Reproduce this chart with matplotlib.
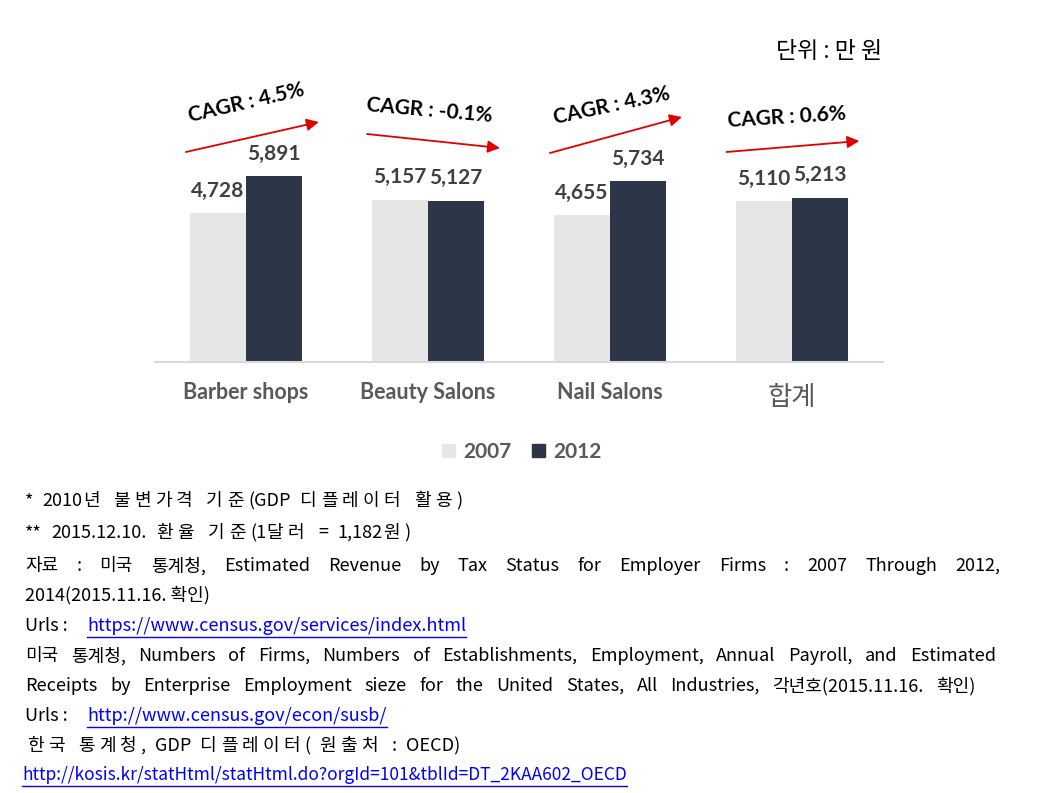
import matplotlib
matplotlib.use("Agg")
import matplotlib.pyplot as plt
import numpy as np
from matplotlib.lines import Line2D
from matplotlib.patches import Rectangle

# 데이터
categories = ["Barber shops", "Beauty Salons", "Nail Salons", "합계"]
v2007 = [4728, 5157, 4655, 5110]
v2012 = [5891, 5127, 5734, 5213]
cagr = ["4.5%", "-0.1%", "4.3%", "0.6%"]
years = ["2007", "2012"]

c07 = "#E7E6E6"
c12 = "#2D3648"
KR = ["Noto Sans CJK KR", "DejaVu Sans"]
LAT = ["Lato", "Noto Sans CJK KR"]
NOTE = ["Liberation Sans Narrow", "Noto Sans CJK KR"]

fig = plt.figure(figsize=(10.53, 7.93), dpi=100)
ax = fig.add_axes([155 / 1053, 1 - 362 / 793, 728 / 1053, 272 / 793])

x = np.arange(len(categories))
w = 0.31
b1 = ax.bar(x - w / 2, v2007, w, color=c07)
b2 = ax.bar(x + w / 2, v2012, w, color=c12)
ax.set_xlim(-0.5, 3.5)
ax.set_ylim(0, 8635)
for s in ["top", "right", "left"]:
    ax.spines[s].set_visible(False)
ax.spines["bottom"].set_color("#D9D9D9")
ax.spines["bottom"].set_linewidth(1.5)
ax.set_yticks([])
ax.set_xticks([])

# 값 라벨
for bars, vals in [(b1, v2007), (b2, v2012)]:
    for r, v in zip(bars, vals):
        ax.annotate(f"{v:,}", (r.get_x() + r.get_width() / 2, v), xytext=(0, 9),
                    textcoords="offset points", ha="center", va="bottom",
                    fontsize=15, fontweight="bold", color="#404040", family=LAT)

# 카테고리 라벨
for i, c in enumerate(categories):
    if c == "합계":
        ax.text(i, -1130, c, ha="center", va="center", fontsize=19, color="#595959", family=KR)
    else:
        ax.text(i, -960, c, ha="center", va="center", fontsize=15.5, fontweight="bold",
                color="#595959", family=LAT)

# CAGR 화살표 (시작 x오프셋, 시작 y, 끝 x오프셋, 끝 y)
arrows = [(-0.33, 6667, 0.40, 7619), (-0.335, 7238, 0.395, 6794),
          (-0.33, 6635, 0.395, 7778), (-0.36, 6667, 0.37, 7016)]
labels_pos = [(0.0, 8222, 13), (1.01, 7968, -5), (2.01, 8127, 12), (2.97, 7778, 3.5)]
for i, (a, (sx, sy, ex, ey)) in enumerate(zip(cagr, arrows)):
    ax.annotate("", xy=(i + ex, ey), xytext=(i + sx, sy),
                arrowprops=dict(arrowstyle="-|>", color="#E00000", lw=1.3,
                                mutation_scale=18, shrinkA=0, shrinkB=0),
                annotation_clip=False)
    lx, ly, rot = labels_pos[i]
    ax.text(lx, ly, f"CAGR : {a}", ha="center", va="center", rotation=rot,
            rotation_mode="anchor", fontsize=15, fontweight="bold", color="black",
            family=LAT, clip_on=False)

# 범례
handles = [Rectangle((0, 0), 1, 1, color=c07), Rectangle((0, 0), 1, 1, color=c12)]
leg = fig.legend(handles, years, loc="center", bbox_to_anchor=(522 / 1053, 1 - 452 / 793),
                 ncol=2, frameon=False, handlelength=0.6, handleheight=0.6,
                 columnspacing=1.0, handletextpad=0.4,
                 prop=dict(family=LAT, weight="bold", size=15))
for t in leg.get_texts():
    t.set_color("#595959")

fig.text(882 / 1053, 1 - 52 / 793, "단위 : 만 원", ha="right", va="center", fontsize=16.5,
         family=KR, color="black")

# 주석
renderer = fig.canvas.get_renderer()


def is_kr(ch):
    return "\uac00" <= ch <= "\ud7a3"


def tokens(s):
    out = []
    for ch in s:
        if is_kr(ch) or ch == " " or not out or is_kr(out[-1][-1]) or out[-1] == " ":
            out.append(ch)
        else:
            out[-1] += ch
    return out


def put(s, px, py, x_end=None, color="black", underline=False, size=13, spread=False):
    y = 1 - py / 793
    if x_end is None:
        t = fig.text(px / 1053, y, s, ha="left", va="center", fontsize=size,
                     family=NOTE, color=color)
        if underline:
            bb = t.get_window_extent(renderer)
            fig.add_artist(Line2D([bb.x0 / 1053, bb.x1 / 1053],
                                  [1 - (py + 11) / 793] * 2, color=color, lw=1,
                                  transform=fig.transFigure))
        return
    # spread: 한글 글자 사이만 벌림, 아니면 단어 단위 양쪽 맞춤
    parts = tokens(s) if spread else s.split(" ")
    sp = size * 0.28 * 100 / 72
    ts, ws, stretch = [], [], []
    for p in parts:
        stretch.append((not spread) or is_kr(p[-1]) or p == " ")
        if p == " ":
            ts.append(None)
            ws.append(sp)
            continue
        t = fig.text(0, y, p, ha="left", va="center", fontsize=size, family=NOTE, color=color)
        ts.append(t)
        ws.append(t.get_window_extent(renderer).width)
    n_gap = sum(stretch[:-1]) or 1
    gap = (x_end - px - sum(ws)) / n_gap
    cur = px
    for t, wd, st in zip(ts, ws, stretch):
        if t is not None:
            t.set_x(cur / 1053)
        cur += wd + (gap if st else 0)


put("* 2010년 불변가격 기준(GDP 디플레이터 활용)", 25, 501, x_end=462, spread=True)
put("** 2015.12.10. 환율 기준(1달러 = 1,182원)", 25, 533, x_end=410, spread=True)
put("자료 : 미국 통계청, Estimated Revenue by Tax Status for Employer Firms : 2007 Through 2012,",
    25, 566, x_end=1000)
put("2014(2015.11.16. 확인)", 25, 595)
put("Urls :", 25, 626)
put("https://www.census.gov/services/index.html", 87, 626, color="#0000FF", underline=True)
put("미국 통계청, Numbers of Firms, Numbers of Establishments, Employment, Annual Payroll, and Estimated",
    25, 656, x_end=996)
put("Receipts by Enterprise Employment sieze for the United States, All Industries, 각년호(2015.11.16. 확인)",
    25, 686, x_end=976)
put("Urls :", 25, 716)
put("http://www.census.gov/econ/susb/", 87, 716, color="#0000FF", underline=True)
put("한국 통계청, GDP 디플레이터( 원출처 : OECD)", 27, 746, x_end=460, spread=True)
put("http://kosis.kr/statHtml/statHtml.do?orgId=101&tblId=DT_2KAA602_OECD", 22, 775,
    color="#0000FF", underline=True, size=12.5)

fig.savefig("out.png", dpi=100)
